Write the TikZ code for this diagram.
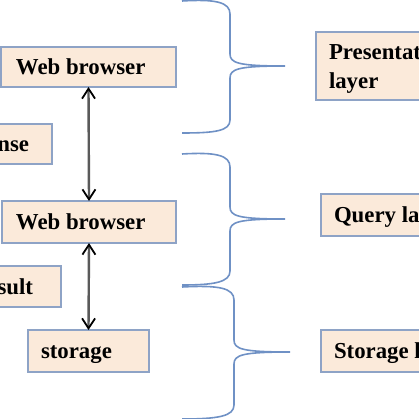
\documentclass[tikz,border=0pt]{standalone}
\usepackage{fontspec}
\setmainfont{Liberation Serif}
\usetikzlibrary{arrows.meta}
\definecolor{boxfill}{HTML}{FBEADA}
\definecolor{boxline}{HTML}{8EA3C6}
\definecolor{bracecol}{HTML}{6F91C5}
\definecolor{arrcol}{HTML}{5A5A5A}
\tikzset{
  box/.style={draw=boxline, fill=boxfill, line width=1.5pt, rectangle, inner sep=0pt, outer sep=0pt},
  lbl/.style={inner sep=0pt, outer sep=0pt, font=\fontsize{22.8}{26}\selectfont\bfseries},
  brace/.style={draw=bracecol, line width=1.6pt},
  arr/.style={draw=arrcol, line width=2.4pt, {Straight Barb[length=10pt,width=13pt,line width=1.8pt,color=black]}-{Straight Barb[length=10pt,width=13pt,line width=1.8pt,color=black]}}
}
\begin{document}
\begin{tikzpicture}[x=1pt,y=-1pt]
\useasboundingbox (0,0) rectangle (419,419);
% boxes
\node[box, minimum width=175pt, minimum height=40pt] (wb1) at (88.5,67) {};
\node[box, minimum width=62pt, minimum height=40pt] (rnse) at (21,144) {};
\node[box, minimum width=174pt, minimum height=42pt] (wb2) at (89,222) {};
\node[box, minimum width=71pt, minimum height=41pt] (rsult) at (25.5,286.5) {};
\node[box, minimum width=121pt, minimum height=42pt] (st) at (88.5,351) {};
\node[box, minimum width=114pt, minimum height=68pt] (pl) at (373,66) {};
\node[box, minimum width=109pt, minimum height=42pt] (ql) at (375.5,215) {};
\node[box, minimum width=109pt, minimum height=42pt] (sl) at (375.5,351) {};
% labels
\node[lbl, anchor=base west] (twb1) at (16,74.5) {Web browser};
\node[lbl, anchor=base east] (tnse) at (29,151.5) {nse};
\node[lbl, anchor=base west] (twb2) at (16,229.5) {Web browser};
\node[lbl, anchor=base east] (tsult) at (33,294) {sult};
\node[lbl, anchor=base west] (tst) at (41,358) {storage};
\node[lbl, anchor=base west] (tpl1) at (329,59.5) {Presentat};
\node[lbl, anchor=base west] (tpl2) at (329,88.5) {layer};
\node[lbl, anchor=base west] (tql) at (334,222.5) {Query la};
\node[lbl, anchor=base west] (tsl) at (334,358.5) {Storage l};
% arrows
\draw[arr] (wb1.south) -- (wb2.north);
\draw[arr] (wb2.south) -- (st.north);
% braces
\draw[brace] (182,1) .. controls (215,-1) and (230,2) .. (230,14) -- (230,54)
  .. controls (230,63) and (238,66) .. (285,66)
  .. controls (238,66) and (230,69) .. (230,78) -- (230,120)
  .. controls (230,131) and (215,133) .. (182,133);
\draw[brace] (182,154) .. controls (215,152) and (230,155) .. (230,167) -- (230,207)
  .. controls (230,216) and (238,219) .. (285,219)
  .. controls (238,219) and (230,222) .. (230,231) -- (230,271)
  .. controls (230,282) and (215,285) .. (182,285);
\draw[brace] (182,287) .. controls (219,285) and (234,288) .. (234,300) -- (234,340)
  .. controls (234,349) and (242,352) .. (290,352)
  .. controls (242,352) and (234,355) .. (234,364) -- (234,405)
  .. controls (234,416) and (219,419) .. (182,419);
\end{tikzpicture}
\end{document}
